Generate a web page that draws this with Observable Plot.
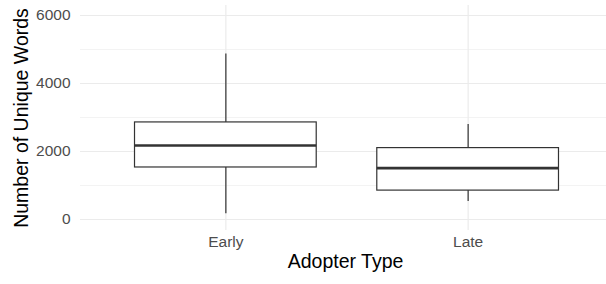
<!DOCTYPE html>
<html>
<head>
<meta charset="utf-8">
<script src="https://cdn.jsdelivr.net/npm/d3@7"></script>
<script src="https://cdn.jsdelivr.net/npm/@observablehq/plot@0.6"></script>
<style>
  html, body { margin: 0; padding: 0; background: #fff; }
  svg { display: block; }
</style>
</head>
<body>
<div id="chart"></div>
<script>
const categories = ["Early", "Late"];
const q1 = [1530, 850];
const median = [2175, 1510];
const q3 = [2855, 2100];
const whiskerLow = [170, 530];
const whiskerHigh = [4870, 2795];
const yTicks = [0, 2000, 4000, 6000];
const yMinor = [1000, 3000, 5000];
const xTitle = "Adopter Type";
const yTitle = "Number of Unique Words";

const boxes = categories.map((c, i) => ({
  cat: c, pos: i + 1,
  q1: q1[i], med: median[i], q3: q3[i], lo: whiskerLow[i], hi: whiskerHigh[i]
}));

const font = "'Liberation Sans', Arial, Helvetica, sans-serif";
const half = 0.375;

const chart = Plot.plot({
  width: 606,
  height: 284,
  marginLeft: 80,
  marginRight: 0,
  marginTop: 5,
  marginBottom: 54,
  style: { fontFamily: font, background: "#fff", overflow: "visible" },
  x: { type: "linear", domain: [0.4, 2.6], range: [80, 613] },
  y: { domain: [0, 6000], range: [219, 15] },
  marks: [
    Plot.gridY({ ticks: yMinor, stroke: "#ebebeb", strokeOpacity: 1, strokeWidth: 0.6 }),
    Plot.gridY({ ticks: yTicks, stroke: "#ebebeb", strokeOpacity: 1, strokeWidth: 1.2 }),
    Plot.gridX({ ticks: boxes.map(d => d.pos), stroke: "#ebebeb", strokeOpacity: 1, strokeWidth: 1.2 }),
    Plot.axisY({ ticks: yTicks, tickSize: 0, tickPadding: 10, label: null, fontSize: 15.5, fill: "#4d4d4d", tickFormat: d => String(d) }),
    Plot.axisX({ ticks: boxes.map(d => d.pos), tickSize: 0, tickPadding: 5, label: null, fontSize: 15.5, fill: "#4d4d4d", tickFormat: d => categories[d - 1] }),
    Plot.ruleX(boxes, { x: "pos", y1: "lo", y2: "q1", stroke: "#333333", strokeWidth: 1.2 }),
    Plot.ruleX(boxes, { x: "pos", y1: "q3", y2: "hi", stroke: "#333333", strokeWidth: 1.2 }),
    Plot.rect(boxes, { x1: d => d.pos - half, x2: d => d.pos + half, y1: "q1", y2: "q3", fill: "#fff", stroke: "#333333", strokeWidth: 1.2 }),
    Plot.ruleY(boxes, { x1: d => d.pos - half, x2: d => d.pos + half, y: "med", stroke: "#333333", strokeWidth: 2.6 }),
    Plot.text([yTitle], { frameAnchor: "left", rotate: -90, dx: -59, textAnchor: "middle", fontSize: 19.5, fill: "#000", text: d => d }),
    Plot.text([xTitle], { frameAnchor: "bottom", dx: 2, dy: 37, fontSize: 19.5, fill: "#000", text: d => d })
  ]
});
document.getElementById("chart").appendChild(chart);
</script>
</body>
</html>
